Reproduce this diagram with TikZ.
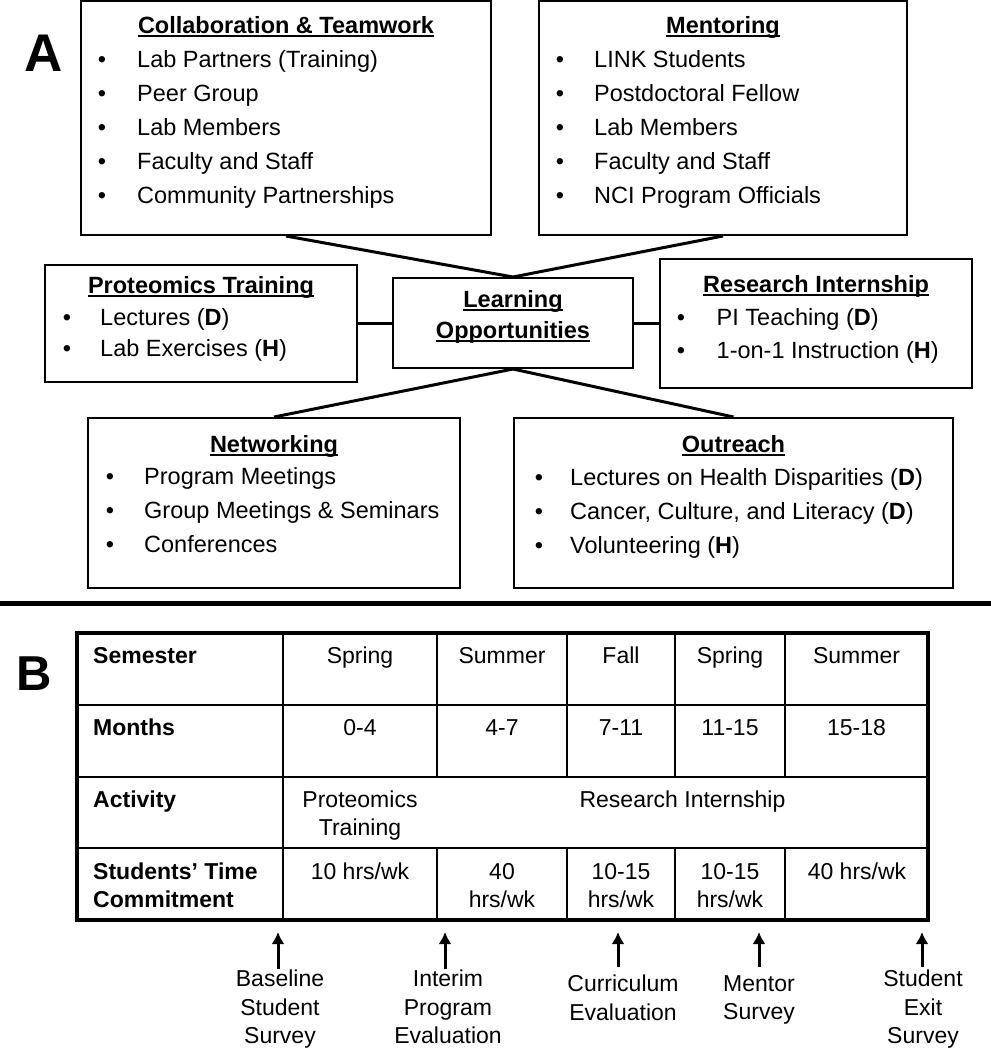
\documentclass[tikz,border=0pt]{standalone}
\usepackage{fontspec}
\setmainfont{Liberation Sans}
\usetikzlibrary{calc,arrows.meta}
\newcommand\undl[1]{\setbox0=\hbox{#1}\rlap{\vrule height -1.5pt depth 3.5pt width \wd0}\box0}
\tikzset{
  box/.style={draw, line width=2pt, inner sep=0pt},
  head/.style={anchor=base, inner sep=0pt, font=\fontsize{23.5}{28}\selectfont\bfseries},
  txt/.style={anchor=base west, inner sep=0pt, font=\fontsize{23.5}{28}\selectfont},
  dot/.style={anchor=base, inner sep=0pt, font=\fontsize{23.5}{28}\selectfont},
  link/.style={line width=3pt},
  panel/.style={anchor=base, inner sep=0pt},
  cell/.style={anchor=base, inner sep=0pt, font=\fontsize{23}{28}\selectfont},
  rowhead/.style={anchor=base west, inner sep=0pt, font=\fontsize{23}{28}\selectfont\bfseries},
  note/.style={anchor=north, inner sep=0pt, align=center, font=\fontsize{23}{28.5}\selectfont},
  up/.style={line width=3pt, -{Latex[length=12pt,width=13pt]}}
}
\begin{document}
\begin{tikzpicture}[x=1pt, y=-1pt]
			\useasboundingbox (0,0) rectangle (991,1050);
			
			%%%%% PANEL A %%%%%
			
			\node[panel, font=\fontsize{53}{60}\selectfont\bfseries] (labA) at (43.5, 71) {A};
			
			\node[box, minimum width=410, minimum height=234] (collab) at (286, 118) {};
			\node[head] (collabT) at (286, 33) {\undl{Collaboration \& Teamwork}};
			\foreach \t [count=\i] in {Lab Partners (Training), Peer Group, Lab Members, Faculty and Staff, Community Partnerships} {
				\node[dot] (collab-b\i) at (102, 33.5+34*\i) {\textbullet};
				\node[txt] (collab-\i) at (137, 33.5+34*\i) {\t};
			}
			
			\node[box, minimum width=368, minimum height=234] (mentor) at (723, 118) {};
			\node[head] (mentorT) at (723, 33) {\undl{Mentoring}};
			\foreach \t [count=\i] in {LINK Students, Postdoctoral Fellow, Lab Members, Faculty and Staff, NCI Program Officials} {
				\node[dot] (mentor-b\i) at (560, 33.5+34*\i) {\textbullet};
				\node[txt] (mentor-\i) at (594, 33.5+34*\i) {\t};
			}
			
			\node[box, minimum width=312, minimum height=117] (prot) at (201, 323) {};
			\node[head] (protT) at (201, 293) {\undl{Proteomics Training}};
			\foreach \t [count=\i] in {Lectures (\textbf{D}), Lab Exercises (\textbf{H})} {
				\node[dot] (prot-b\i) at (67, 293.5+31.5*\i) {\textbullet};
				\node[txt] (prot-\i) at (100, 293.5+31.5*\i) {\t};
			}
			
			\node[box, minimum width=240, minimum height=90] (learn) at (513, 323) {};
			\node[head] (learnT) at (513, 307) {\undl{Learning}};
			\node[head] (learnT2) at (513, 338) {\undl{Opportunities}};
			
			\node[box, minimum width=312, minimum height=129] (resint) at (816, 323) {};
			\node[head] (resintT) at (816, 292) {\undl{Research Internship}};
			\foreach \t [count=\i] in {PI Teaching (\textbf{D}), 1-on-1 Instruction (\textbf{H})} {
				\node[dot] (resint-b\i) at (681, 292+33*\i) {\textbullet};
				\node[txt] (resint-\i) at (716.5, 292+33*\i) {\t};
			}
			
			\node[box, minimum width=372, minimum height=170] (netw) at (274, 503) {};
			\node[head] (netwT) at (274, 452) {\undl{Networking}};
			\foreach \t [count=\i] in {Program Meetings, Group Meetings \& Seminars, Conferences} {
				\node[dot] (netw-b\i) at (110, 450+34*\i) {\textbullet};
				\node[txt] (netw-\i) at (144, 450+34*\i) {\t};
			}
			
			\node[box, minimum width=439, minimum height=170] (outr) at (733.5, 503) {};
			\node[head] (outrT) at (733.5, 452) {\undl{Outreach}};
			\foreach \t [count=\i] in {Lectures on Health Disparities (\textbf{D}), {Cancer, Culture, and Literacy (\textbf{D})}, Volunteering (\textbf{H})} {
				\node[dot] (outr-b\i) at (539, 451+34*\i) {\textbullet};
				\node[txt] (outr-\i) at (570, 451+34*\i) {\t};
			}
			
			\draw[link] (collab.south) -- (learn.north);
			\draw[link] (mentor.south) -- (learn.north);
			\draw[link] (prot.east) -- (learn.west);
			\draw[link] (learn.east) -- (resint.west);
			\draw[link] (learn.south) -- (netw.north);
			\draw[link] (learn.south) -- (outr.north);
			
			\draw[line width=5pt] (0, 603) -- (991, 603);
			
			%%%%% PANEL B %%%%%
			
			\node[panel, font=\fontsize{49}{56}\selectfont\bfseries] (labB) at (34.5, 690) {B};
			
			\draw[line width=2pt] (283, 633) -- (283, 920);
			\foreach \x in {437, 567, 675, 785}
				\draw[line width=2pt] (\x, 633) -- (\x, 777) (\x, 848) -- (\x, 920);
			\foreach \y in {705, 777, 848}
				\draw[line width=2pt] (77, \y) -- (928, \y);
			\draw[line width=4.5pt] (77, 633) rectangle (928, 920);
			
			\node[rowhead] (hSem) at (93, 663) {Semester};
			\node[rowhead] (hMon) at (93, 735) {Months};
			\node[rowhead] (hAct) at (93, 807) {Activity};
			\node[rowhead] (hTime) at (93, 879) {Students’ Time};
			\node[rowhead] (hTime2) at (93, 907) {Commitment};
			
			\foreach \x/\s/\m [count=\i] in {360/Spring/0-4, 502/Summer/4-7, 621/Fall/7-11, 730/Spring/11-15, 856.5/Summer/15-18} {
				\node[cell] (sem-\i) at (\x, 663) {\s};
				\node[cell] (mon-\i) at (\x, 735) {\m};
			}
			
			\node[cell] (act-1) at (360, 807) {Proteomics};
			\node[cell] (act-1b) at (360, 835) {Training};
			\node[cell] (act-2) at (682.5, 807) {Research Internship};
			
			\node[cell] (hrs-1) at (360, 879) {10 hrs/wk};
			\node[cell] (hrs-2) at (502, 879) {40};
			\node[cell] (hrs-2b) at (502, 907) {hrs/wk};
			\node[cell] (hrs-3) at (621, 879) {10-15};
			\node[cell] (hrs-3b) at (621, 907) {hrs/wk};
			\node[cell] (hrs-4) at (730, 879) {10-15};
			\node[cell] (hrs-4b) at (730, 907) {hrs/wk};
			\node[cell] (hrs-5) at (857, 879) {40 hrs/wk};
			
			% evaluation points
			\coordinate (tip1) at (278, 932);
			\coordinate (tip2) at (445, 932);
			\coordinate (tip3) at (618, 932);
			\coordinate (tip4) at (759, 932);
			\coordinate (tip5) at (922, 932);
			
			\node[note] (eval1) at (280, 970) {Baseline\\Student\\Survey};
			\node[note] (eval2) at (448, 970) {Interim\\Program\\Evaluation};
			\node[note] (eval3) at (623, 975) {Curriculum\\Evaluation};
			\node[note] (eval4) at (759, 975) {Mentor\\Survey};
			\node[note] (eval5) at (923, 970) {Student\\Exit\\Survey};
			
			\draw[up, shorten <=1pt] (eval1.north -| tip1) -- (tip1);
			\draw[up, shorten <=1pt] (eval2.north -| tip2) -- (tip2);
			\draw[up, shorten <=8pt] (eval3.north -| tip3) -- (tip3);
			\draw[up, shorten <=8pt] (eval4.north -| tip4) -- (tip4);
			\draw[up, shorten <=3pt] (eval5.north -| tip5) -- (tip5);
			
\end{tikzpicture}
\end{document}
